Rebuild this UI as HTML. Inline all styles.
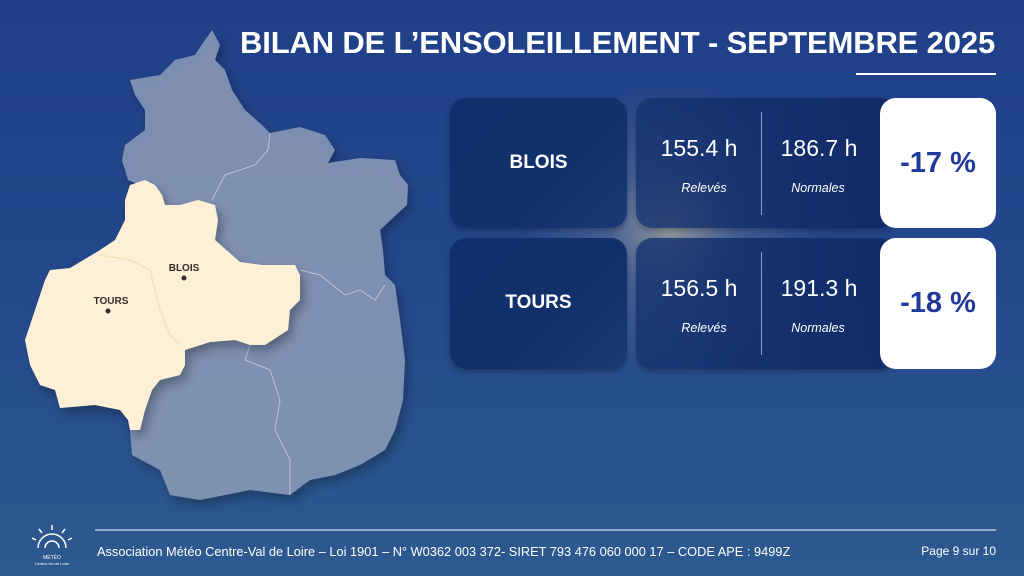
<!DOCTYPE html>
<html><head><meta charset="utf-8"><style>
body{margin:0;width:1024px;height:576px;overflow:hidden;font-family:"Liberation Sans",sans-serif;}
.bg{position:absolute;inset:0;background:linear-gradient(180deg,#1f3f88 0%,#24488c 50%,#2d5a8f 100%);}
.glow{position:absolute;left:520px;top:80px;width:300px;height:300px;border-radius:50%;background:radial-gradient(circle,rgba(235,215,170,.55) 0%,rgba(170,170,180,.25) 30%,rgba(60,90,150,0) 70%);}
.t{position:absolute;color:#fff;}
.card{position:absolute;border-radius:16px;background:linear-gradient(135deg,#0f2f6e,#12306a 60%,#1a3a76);box-shadow:0 3px 6px rgba(0,0,0,.25);}
.mid{background:linear-gradient(90deg,rgba(20,50,110,.8),rgba(15,40,100,.9));}
.w{position:absolute;background:#fff;border-radius:16px;color:#22389a;font-weight:bold;font-size:29px;display:flex;align-items:center;justify-content:center;}
.num{position:absolute;color:#fff;font-size:23px;width:120px;text-align:center;}
.lab{position:absolute;color:#fff;font-size:12.5px;font-style:italic;width:120px;text-align:center;}
.city{position:absolute;color:#fff;font-weight:bold;font-size:19px;width:177px;text-align:center;}
</style></head><body>
<div class="bg"></div>
<div class="glow"></div>
<svg style="position:absolute;left:0;top:0" width="1024" height="576">
<defs><filter id="s"><feDropShadow dx="4" dy="6" stdDeviation="5" flood-color="#000" flood-opacity=".3"/></filter></defs>
<polygon filter="url(#s)" fill="#8c9cb8" fill-opacity=".85" points="212,30 220,45 215,60 225,70 232,90 245,110 262,125 270,133 300,127 325,135 335,150 328,163 360,158 395,160 400,175 408,185 407,205 396,215 380,230 383,250 385,275 395,285 400,320 405,360 403,400 395,430 385,450 360,465 335,475 310,480 290,495 250,490 200,500 170,495 160,470 132,455 130,430 140,200 130,185 140,185 128,180 122,160 125,145 145,130 145,110 135,95 130,80 160,75 175,60 195,55 205,40"/>
<polyline fill="none" stroke="#b8c4d8" stroke-width="1" points="270,133 268,150 255,165 225,175 212,200"/>
<polyline fill="none" stroke="#b8c4d8" stroke-width="1" points="300,270 320,275 345,295 360,290 375,300 385,285"/>
<polyline fill="none" stroke="#b8c4d8" stroke-width="1" points="250,345 245,360 270,370 280,400 275,430 290,460 290,495"/>
<polygon filter="url(#s)" fill="#fdf0d6" points="130,185 145,180 155,185 162,195 165,205 180,205 198,200 215,205 218,220 215,240 240,262 262,265 295,265 300,275 300,300 290,310 288,330 265,345 250,345 235,340 210,342 185,350 185,365 180,375 160,380 152,390 145,410 140,430 130,430 128,420 120,410 95,405 60,408 55,390 40,385 30,365 25,340 35,310 45,280 50,270 70,268 100,250 115,240 125,220 125,200"/>
<polyline fill="none" stroke="#f1dfb5" stroke-width="1.2" points="100,255 130,260 150,270 155,290 160,310 170,335 180,345"/>
<circle cx="184" cy="278" r="2.5" fill="#3a2a2a"/><circle cx="108" cy="311" r="2.5" fill="#3a2a2a"/>
<text x="184" y="271" font-family="Liberation Sans" font-weight="bold" font-size="10" fill="#3a2a2a" text-anchor="middle">BLOIS</text>
<text x="111" y="304" font-family="Liberation Sans" font-weight="bold" font-size="10" fill="#3a2a2a" text-anchor="middle">TOURS</text>
<line x1="856" y1="74" x2="996" y2="74" stroke="#fff" stroke-width="2"/>
<line x1="95" y1="530" x2="996" y2="530" stroke="#fff" stroke-width="1"/>
<g stroke="#fff" stroke-width="1.5" fill="none"><path d="M38 548 a14 14 0 0 1 28 0"/><path d="M45 548 a7 7 0 0 1 14 0"/>
<path d="M52 530v-5M42 533l-3-4M62 533l3-4M36 540l-4-2M68 540l4-2"/></g>
<text x="52" y="559" font-family="Liberation Sans" font-size="5" fill="#fff" text-anchor="middle">MÉTÉO</text>
<text x="52" y="565" font-family="Liberation Sans" font-size="4" fill="#fff" text-anchor="middle">Centre-Val de Loire</text>
</svg>
<div class="t" style="left:240px;top:25px;font-size:31px;font-weight:bold;letter-spacing:-0.15px;white-space:nowrap">BILAN DE L’ENSOLEILLEMENT - SEPTEMBRE 2025</div>

<div class="card" style="left:450px;top:98px;width:177px;height:130px"></div>
<div class="city" style="left:450px;top:152px">BLOIS</div>
<div class="card mid" style="left:636px;top:98px;width:260px;height:130px"></div>
<div style="position:absolute;left:761px;top:112px;width:1px;height:103px;background:#8a9cc0"></div>
<div class="num" style="left:639px;top:135px">155.4 h</div>
<div class="num" style="left:759px;top:135px">186.7 h</div>
<div class="lab" style="left:644px;top:181px">Relevés</div>
<div class="lab" style="left:758px;top:181px">Normales</div>
<div class="w" style="left:880px;top:98px;width:116px;height:130px">-17 %</div>

<div class="card" style="left:450px;top:238px;width:177px;height:131px"></div>
<div class="city" style="left:450px;top:292px">TOURS</div>
<div class="card mid" style="left:636px;top:238px;width:260px;height:131px"></div>
<div style="position:absolute;left:761px;top:252px;width:1px;height:103px;background:#8a9cc0"></div>
<div class="num" style="left:639px;top:275px">156.5 h</div>
<div class="num" style="left:759px;top:275px">191.3 h</div>
<div class="lab" style="left:644px;top:321px">Relevés</div>
<div class="lab" style="left:758px;top:321px">Normales</div>
<div class="w" style="left:880px;top:238px;width:116px;height:131px">-18 %</div>

<div class="t" style="left:97px;top:544px;font-size:12.8px;white-space:nowrap">Association Météo Centre-Val de Loire – Loi 1901 – N° W0362 003 372- SIRET 793 476 060 000 17 – CODE APE : 9499Z</div>
<div class="t" style="right:28px;top:544px;font-size:12px;white-space:nowrap">Page 9 sur 10</div>
</body></html>
